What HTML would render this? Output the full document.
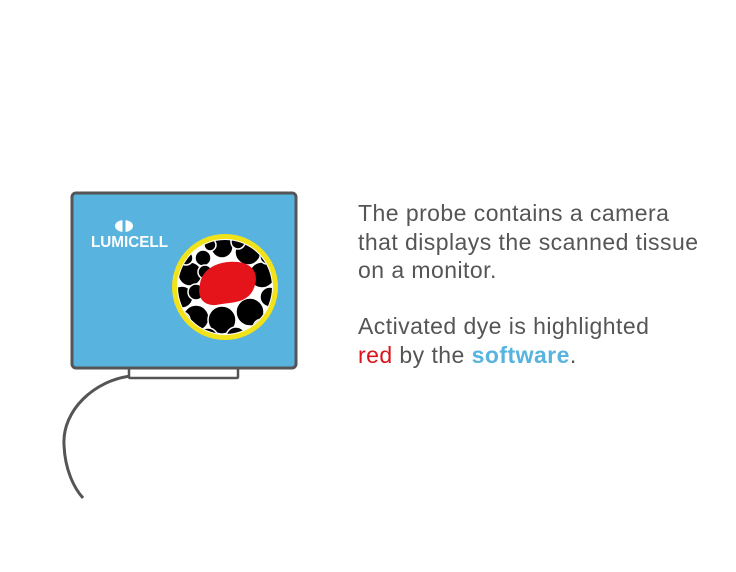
<!DOCTYPE html>
<html><head><style>
body{margin:0;width:736px;height:572px;background:#fff;position:relative;overflow:hidden;font-family:"Liberation Sans",sans-serif}
.t{position:absolute;left:358px;font-size:23px;line-height:28.5px;color:#555;white-space:nowrap;letter-spacing:0.45px}
</style></head><body>
<svg width="736" height="572" style="position:absolute;left:0;top:0">
<path d="M131,376 C95,380 62,410 64,445 C65,470 74,488 83,498" fill="none" stroke="#555" stroke-width="3"/>
<rect x="129" y="367" width="109" height="11" rx="1" fill="#fff" stroke="#555" stroke-width="2.5"/>
<rect x="72" y="193" width="224" height="175" rx="4" fill="#58b3df" stroke="#555" stroke-width="3"/>
<ellipse cx="124" cy="226" rx="9" ry="6" fill="#fff"/>
<rect x="122.5" y="220" width="3" height="12" fill="#58b3df"/>
<text x="91" y="247" font-family="Liberation Sans" font-weight="bold" font-size="16" fill="#fff" textLength="77" lengthAdjust="spacingAndGlyphs">LUMICELL</text>
<circle cx="225" cy="287" r="53" fill="#f2e21a"/>
<circle cx="225" cy="287" r="48" fill="#fff"/>
<clipPath id="c"><circle cx="225" cy="287" r="47"/></clipPath>
<g clip-path="url(#c)" fill="#000" stroke="#fff" stroke-width="1.5">
<circle cx="222" cy="247" r="11"/><circle cx="248" cy="252" r="13"/><circle cx="203" cy="258" r="8"/>
<circle cx="190" cy="274" r="12"/><circle cx="262" cy="275" r="13"/><circle cx="182" cy="297" r="11"/>
<circle cx="196" cy="318" r="13"/><circle cx="222" cy="320" r="14"/><circle cx="250" cy="312" r="14"/>
<circle cx="270" cy="297" r="10"/><circle cx="236" cy="337" r="10"/><circle cx="208" cy="338" r="10"/>
<circle cx="210" cy="245" r="6"/><circle cx="205" cy="272" r="7"/><circle cx="182" cy="320" r="8"/>
<circle cx="262" cy="328" r="9"/><circle cx="238" cy="242" r="7"/><circle cx="267" cy="257" r="7"/>
<circle cx="196" cy="292" r="8"/><circle cx="186" cy="258" r="7"/><circle cx="273" cy="315" r="7"/>
<circle cx="250" cy="335" r="7"/>
</g>
<path d="M200,284 C202,268 220,260 238,262 C256,264 260,278 252,292 C244,304 230,302 216,305 C202,306 197,296 200,284Z" fill="#e5141b"/>
</svg>
<div class="t" style="top:199px">The probe contains a camera<br>that displays the scanned tissue<br>on a monitor.</div>
<div class="t" style="top:312px">Activated dye is highlighted<br><span style="color:#d9141c">red</span> by the <b style="color:#58b3df">software</b>.</div>
</body></html>
